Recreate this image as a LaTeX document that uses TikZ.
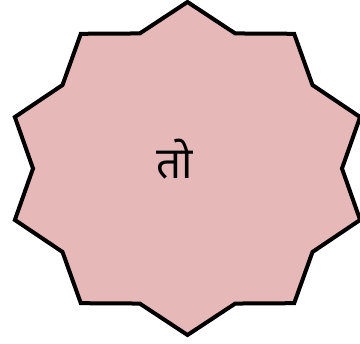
\documentclass[tikz,border=0pt]{standalone}
\usepackage{fontspec}
\newfontfamily\devafont[Script=Devanagari]{Noto Sans}
\definecolor{starfill}{RGB}{230,185,184}
\begin{document}
\begin{tikzpicture}[x=1pt,y=-1pt,
  starshape/.style={draw=black,fill=starfill,line width=4pt,line join=miter},
  label/.style={font=\devafont\fontsize{44}{52}\selectfont,inner sep=0pt}]
\useasboundingbox (0,0) rectangle (360,344);
\clip (0,0) rectangle (360,344);
\draw[starshape] (187.5,2)
  \foreach \i in {1,...,19}{
    \pgfextra{\pgfmathsetmacro\ang{90-18*\i}
      \ifodd\i \gdef\rx{154.5}\gdef\ry{142}\else\gdef\rx{181.5}\gdef\ry{166.5}\fi}
    -- ({187.5+\rx*cos(\ang)},{168.5-\ry*sin(\ang)})
  } -- cycle;
\node[label] (t) at (175,159) {तो};
\end{tikzpicture}
\end{document}
